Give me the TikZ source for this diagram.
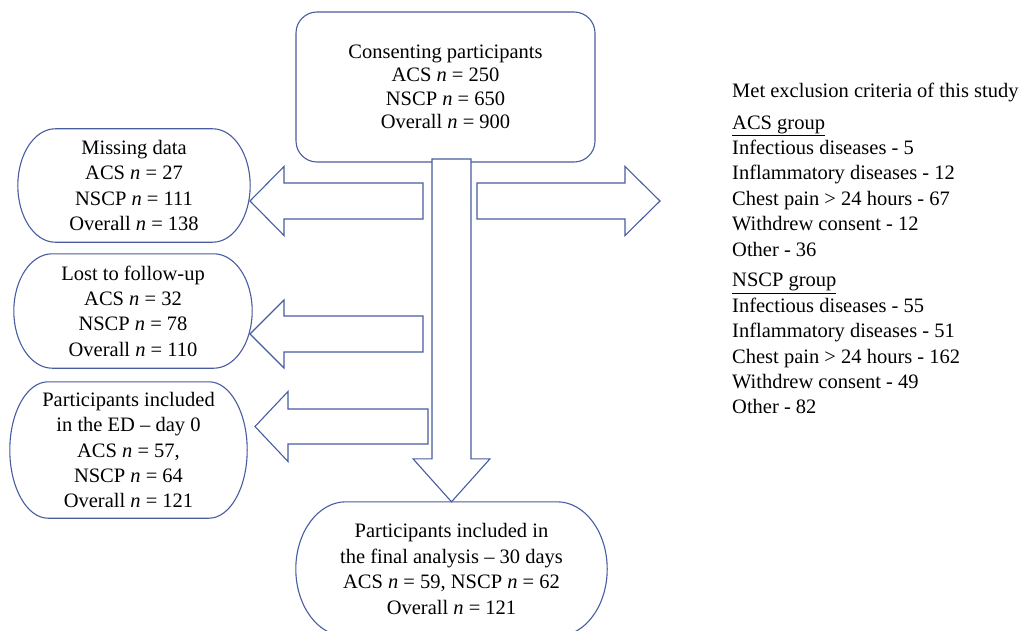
\documentclass[tikz,border=0pt]{standalone}
\usepackage{fontspec}
\setmainfont{Liberation Serif}
\usetikzlibrary{calc}
\definecolor{lineblue}{RGB}{72,92,160}
\tikzset{
  txt/.style={align=center, inner sep=0pt, font=\fontsize{20.5}{25.4}\selectfont},
  lefttxt/.style={align=left, inner sep=0pt, font=\fontsize{20.5}{25.4}\selectfont},
  outline/.style={draw=lineblue, line width=1.1pt},
  blockarr/.style={draw=lineblue, line width=1.1pt, fill=white, line join=miter},
}
\newcommand\termoutline[1]{%
  \draw[outline] let \p1=(#1.south west), \p2=(#1.north east),
    \n1={0.161*(\x2-\x1)}, \n2={(\y2-\y1)/2} in
    ({\x1+\n1*1pt},\y2) -- ({\x2-\n1*1pt},\y2)
    arc[start angle=90,end angle=-90,x radius={\n1*1pt},y radius={\n2*1pt}]
    -- ({\x1+\n1*1pt},\y1)
    arc[start angle=270,end angle=90,x radius={\n1*1pt},y radius={\n2*1pt}]
    -- cycle;}
\newcommand\blockarrow[5]{%
  \coordinate (#1-hb) at ($(#2)!#5!(#1)$);
  \draw[blockarr] ($(#1)!#3!90:(#2)$) -- ($(#1-hb)!#3!-90:(#1)$)
    -- ($(#1-hb)!#4!-90:(#1)$) -- (#2) -- ($(#1-hb)!#4!90:(#1)$)
    -- ($(#1-hb)!#3!90:(#1)$) -- ($(#1)!#3!-90:(#2)$) -- cycle;}
\begin{document}
\begin{tikzpicture}[x=1pt,y=-1pt]
\useasboundingbox (0,0) rectangle (1027,631);

% top box
\node[txt, font=\fontsize{20.5}{23.5}\selectfont, draw=lineblue, line width=1.1pt,
      rounded corners=21pt, minimum width=299pt, minimum height=150pt]
      (consent) at (445.5,87) {Consenting participants\\ ACS \textit{n} = 250\\ NSCP \textit{n} = 650\\ Overall \textit{n} = 900};

% left boxes
\node[txt, minimum width=232pt, minimum height=113pt] (miss) at (134,185.5)
  {Missing data\\ ACS \textit{n} = 27\\ NSCP \textit{n} = 111\\ Overall \textit{n} = 138};
\termoutline{miss}
\node[txt, minimum width=238pt, minimum height=114pt] (lost) at (133,311)
  {Lost to follow-up\\ ACS \textit{n} = 32\\ NSCP \textit{n} = 78\\ Overall \textit{n} = 110};
\termoutline{lost}
\node[txt, minimum width=237pt, minimum height=136pt] (ed) at (128.5,450)
  {Participants included\\ in the ED -- day 0\\ ACS \textit{n} = 57,\\ NSCP \textit{n} = 64\\ Overall \textit{n} = 121};
\termoutline{ed}

% bottom box
\node[txt, minimum width=311pt, minimum height=134pt] (final) at (451.5,569)
  {Participants included in\\ the final analysis -- 30 days\\ ACS \textit{n} = 59, NSCP \textit{n} = 62\\ Overall \textit{n} = 121};
\termoutline{final}

% exclusion text
\node[lefttxt, anchor=north west] (excl) at (732,83)
  {Met exclusion criteria of this study\\[6pt]
   \underline{ACS group}\\
   Infectious diseases - 5\\
   Inflammatory diseases - 12\\
   Chest pain > 24 hours - 67\\
   Withdrew consent - 12\\
   Other - 36\\[5.5pt]
   \underline{NSCP group}\\
   Infectious diseases - 55\\
   Inflammatory diseases - 51\\
   Chest pain > 24 hours - 162\\
   Withdrew consent - 49\\
   Other - 82};

% arrow end points
\coordinate (dT) at (451.5,159);
\coordinate (dP) at (final.north);
\coordinate (a1T) at (423,201);
\coordinate (a1P) at (250,201);
\coordinate (a2T) at (423,334);
\coordinate (a2P) at (250,334);
\coordinate (a3T) at (428,426.5);
\coordinate (a3P) at (255,426.5);
\coordinate (rT) at (477,201);
\coordinate (rP) at (660,201);

\blockarrow{dT}{dP}{19.5pt}{38.5pt}{43pt}
\blockarrow{a1T}{a1P}{18pt}{34.5pt}{34pt}
\blockarrow{a2T}{a2P}{18pt}{34pt}{34pt}
\blockarrow{a3T}{a3P}{17.5pt}{35pt}{33pt}
\blockarrow{rT}{rP}{18pt}{34.5pt}{35pt}
\end{tikzpicture}
\end{document}
